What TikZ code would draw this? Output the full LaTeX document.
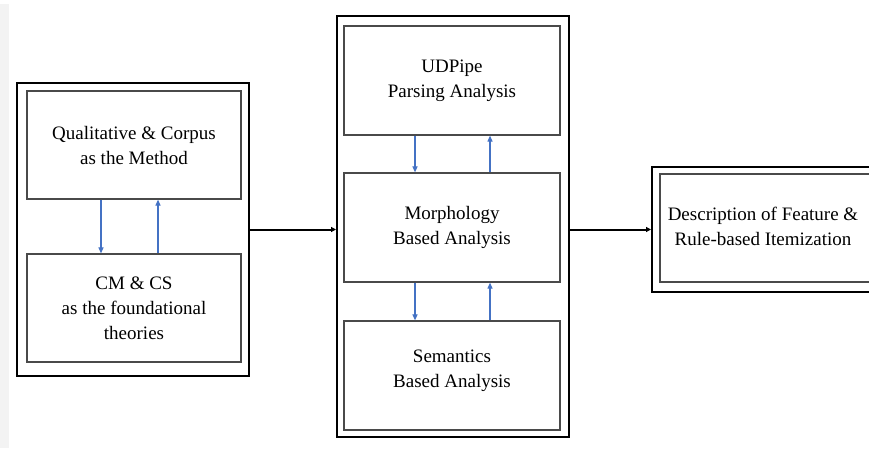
\documentclass[tikz,border=0pt]{standalone}
\usepackage{fontspec}
\setmainfont{Liberation Serif}
\newfontfamily\boxfont{Liberation Serif}
\usetikzlibrary{arrows.meta}
\definecolor{linkblue}{HTML}{4472C4}
\definecolor{innergray}{HTML}{4A4A4A}
\definecolor{stripgray}{HTML}{F3F3F3}
\tikzset{
  outerbox/.style={draw=black, line width=2pt, rectangle, inner sep=0pt},
  innerbox/.style={draw=innergray, line width=1.2pt, rectangle, inner sep=0pt,
    align=center, font=\boxfont\fontsize{19}{25}\selectfont},
  linkarrow/.style={draw=linkblue, line width=1.1pt, -{Triangle[length=6pt,width=5pt]}},
  flowarrow/.style={draw=black, line width=2pt, -{Triangle[length=5pt,width=5pt]}}
}
\begin{document}
\begin{tikzpicture}[x=1pt, y=-1pt]
  \useasboundingbox (0,0) rectangle (869,448);
  \clip (0,0) rectangle (869,448);
  \fill[white] (0,0) rectangle (869,448);
  \fill[stripgray] (0,4) rectangle (9,448);

  % left group: method and theories
  \node[outerbox, minimum width=232pt, minimum height=293pt] (lo) at (133,229.5) {};
  \node[innerbox, minimum width=214pt, minimum height=108pt] (lt) at (134,145)
    {Qualitative \& Corpus\\as the Method};
  \node[innerbox, minimum width=214pt, minimum height=108pt] (lb) at (134,308)
    {CM \& CS\\as the foundational\\theories};

  % middle group: the three analyses
  \node[outerbox, minimum width=232pt, minimum height=421pt] (mo) at (453,226.5) {};
  \node[innerbox, minimum width=216pt, minimum height=109pt] (mt) at (452,80.5)
    {UDPipe\\Parsing Analysis};
  \node[innerbox, minimum width=216pt, minimum height=109pt] (mm) at (452,227.5)
    {Morphology\\Based Analysis};
  \node[innerbox, minimum width=216pt, minimum height=109pt] (mb) at (452,375.5) {};
  \node[font=\boxfont\fontsize{19}{25}\selectfont, align=center] (mbt) at (452,371)
    {Semantics\\Based Analysis};

  % right group: result, running past the right edge
  \node[outerbox, minimum width=228pt, minimum height=125pt] (ro) at (766,229.5) {};
  \node[innerbox, minimum width=212pt, minimum height=108pt] (ri) at (766,228) {};
  \node[font=\boxfont\fontsize{19}{25}\selectfont, align=center] (rt) at (763,226)
    {Description of Feature \&\\Rule-based Itemization};

  % links inside the groups
  \draw[linkarrow] ([xshift=-33pt]lt.south) -- ([xshift=-33pt]lb.north);
  \draw[linkarrow] ([xshift=24pt]lb.north) -- ([xshift=24pt]lt.south);
  \draw[linkarrow] ([xshift=-37pt]mt.south) -- ([xshift=-37pt]mm.north);
  \draw[linkarrow] ([xshift=38pt]mm.north) -- ([xshift=38pt]mt.south);
  \draw[linkarrow] ([xshift=-37pt]mm.south) -- ([xshift=-37pt]mb.north);
  \draw[linkarrow] ([xshift=38pt]mb.north) -- ([xshift=38pt]mm.south);

  % flow between the groups
  \draw[flowarrow] (lo.east) -- (lo.east -| mo.west);
  \draw[flowarrow] (mo.east |- ro.west) -- (ro.west);
\end{tikzpicture}
\end{document}
